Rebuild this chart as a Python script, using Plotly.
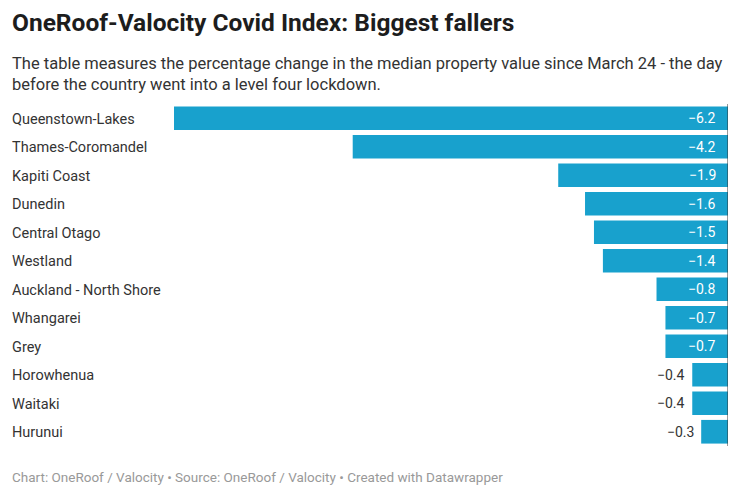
import plotly.graph_objects as go

categories = ["Queenstown-Lakes", "Thames-Coromandel", "Kapiti Coast", "Dunedin",
              "Central Otago", "Westland", "Auckland - North Shore", "Whangarei",
              "Grey", "Horowhenua", "Waitaki", "Hurunui"]
values = [-6.2, -4.2, -1.9, -1.6, -1.5, -1.4, -0.8, -0.7, -0.7, -0.4, -0.4, -0.3]

W, H = 740, 499
ml, mr, mt, mb = 174, 12, 104, 53
PW, PH = W - ml - mr, H - mt - mb


def px(xp):
    return (xp - ml) / PW


def py(yp):
    return (H - mb - yp) / PH


labels = ["\u2212" + f"{abs(v):.1f}" for v in values]

fig = go.Figure()
fig.add_trace(go.Bar(
    x=values, y=categories, orientation="h",
    marker=dict(color="#18a1cd", line=dict(width=0)),
    hoverinfo="skip",
))

for c, v, t in zip(categories, values, labels):
    fig.add_annotation(x=px(10), xref="paper", y=c, yref="y", yshift=-1,
                       text=c, showarrow=False, xanchor="left", yanchor="middle",
                       font=dict(family="Roboto", size=14.5, color="#333333"))
    inside = abs(v) >= 0.6
    fig.add_annotation(x=0 if inside else v, xref="x", y=c, yref="y", text=t,
                       showarrow=False, xanchor="right", yanchor="middle",
                       xshift=-10 if inside else -5,
                       font=dict(family="Roboto", size=14,
                                 color="white" if inside else "#333333"))

fig.add_shape(type="line", xref="x", yref="paper", x0=0, x1=0, y0=0, y1=1,
              line=dict(color="#333333", width=1))

fig.add_annotation(x=px(10), y=py(22), xref="paper", yref="paper", xanchor="left",
                   yanchor="middle", showarrow=False,
                   text="<b>OneRoof-Valocity Covid Index: Biggest fallers</b>",
                   font=dict(family="Roboto", size=24.5, color="#1d1d1d"))
fig.add_annotation(x=px(10), y=py(52), xref="paper", yref="paper", xanchor="left",
                   yanchor="top", showarrow=False, align="left",
                   text="The table measures the percentage change in the median property value since March 24 - the day<br>before the country went into a level four lockdown.",
                   font=dict(family="Roboto", size=16.5, color="#333333"))
fig.add_annotation(x=px(10), y=py(477), xref="paper", yref="paper", xanchor="left",
                   yanchor="middle", showarrow=False,
                   text="Chart: OneRoof / Valocity \u2022 Source: OneRoof / Valocity \u2022 Created with Datawrapper",
                   font=dict(family="Roboto", size=13.5, color="#999999"))

fig.update_layout(
    width=W, height=H, margin=dict(l=ml, r=mr, t=mt, b=mb),
    paper_bgcolor="white", plot_bgcolor="white",
    bargap=0.17, showlegend=False,
    xaxis=dict(range=[-6.2, 0], visible=False, fixedrange=True),
    yaxis=dict(autorange="reversed", showticklabels=False, showgrid=False,
               zeroline=False, fixedrange=True),
)

fig.write_html("out.html", config={"displayModeBar": False},
               post_script="document.body.style.margin='0';")
